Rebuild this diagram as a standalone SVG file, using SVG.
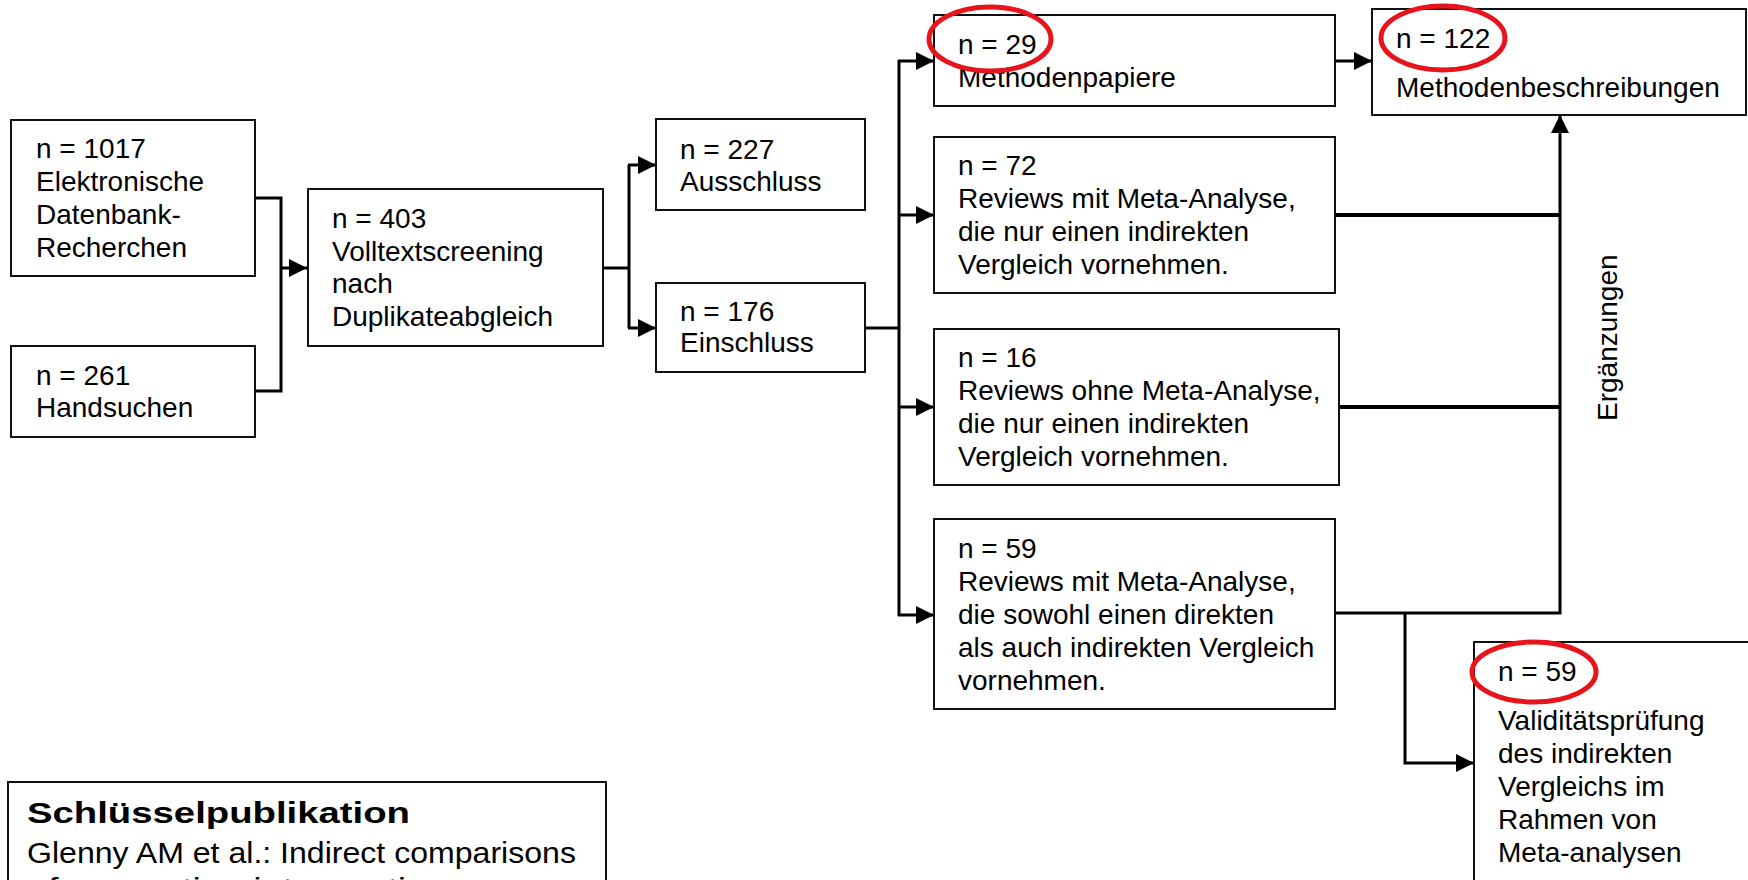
<svg xmlns="http://www.w3.org/2000/svg" width="1748" height="880" viewBox="0 0 1748 880">
<style>
.box{fill:#fff;stroke:#111;stroke-width:2}
.t{font-family:"Liberation Sans",Arial,sans-serif;font-size:28px;fill:#000}
.c{fill:none;stroke:#000;stroke-width:3}
.ct{fill:none;stroke:#000;stroke-width:4}
.red{fill:none;stroke:#e8141c;stroke-width:5}
</style>
<defs>
<marker id="ah" markerUnits="userSpaceOnUse" markerWidth="20" markerHeight="20" refX="18" refY="9" orient="auto">
<path d="M0,0 L18,9 L0,18 z" fill="#000"/>
</marker>
</defs>
<rect width="1748" height="880" fill="#fff"/>

<g id="connectors">
<polyline class="c" points="255,198 281,198 281,391 255,391"/>
<line class="c" x1="281" y1="268" x2="307" y2="268" marker-end="url(#ah)"/>
<line class="c" x1="603" y1="268" x2="629" y2="268"/>
<line class="c" x1="629" y1="165" x2="629" y2="328"/>
<line class="c" x1="628" y1="165" x2="656" y2="165" marker-end="url(#ah)"/>
<line class="c" x1="628" y1="328" x2="656" y2="328" marker-end="url(#ah)"/>
<line class="c" x1="865" y1="328" x2="899" y2="328"/>
<line class="c" x1="899" y1="60" x2="899" y2="616"/>
<line class="c" x1="898" y1="61" x2="934" y2="61" marker-end="url(#ah)"/>
<line class="c" x1="898" y1="215" x2="934" y2="215" marker-end="url(#ah)"/>
<line class="c" x1="898" y1="407" x2="934" y2="407" marker-end="url(#ah)"/>
<line class="c" x1="898" y1="615" x2="934" y2="615" marker-end="url(#ah)"/>
<line class="c" x1="1335" y1="61" x2="1372" y2="61" marker-end="url(#ah)"/>
<line class="ct" x1="1335" y1="215" x2="1560" y2="215"/>
<line class="ct" x1="1339" y1="407" x2="1560" y2="407"/>
<polyline class="c" points="1335,613 1560,613 1560,115" marker-end="url(#ah)"/>
<polyline class="c" points="1405,613 1405,763 1474,763" marker-end="url(#ah)"/>
</g>

<g id="n1017">
<rect class="box" x="11" y="120" width="244" height="156"/>
<text class="t" x="36" y="158">n = 1017</text>
<text class="t" x="36" y="191">Elektronische</text>
<text class="t" x="36" y="224">Datenbank-</text>
<text class="t" x="36" y="257">Recherchen</text>
</g>
<g id="n261">
<rect class="box" x="11" y="346" width="244" height="91"/>
<text class="t" x="36" y="385">n = 261</text>
<text class="t" x="36" y="417">Handsuchen</text>
</g>
<g id="n403">
<rect class="box" x="308" y="189" width="295" height="157"/>
<text class="t" x="332" y="228">n = 403</text>
<text class="t" x="332" y="261">Volltextscreening</text>
<text class="t" x="332" y="293">nach</text>
<text class="t" x="332" y="326">Duplikateabgleich</text>
</g>
<g id="n227">
<rect class="box" x="656" y="119" width="209" height="91"/>
<text class="t" x="680" y="159">n = 227</text>
<text class="t" x="680" y="191">Ausschluss</text>
</g>
<g id="n176">
<rect class="box" x="656" y="283" width="209" height="89"/>
<text class="t" x="680" y="321">n = 176</text>
<text class="t" x="680" y="352">Einschluss</text>
</g>
<g id="n29">
<rect class="box" x="934" y="15" width="401" height="91"/>
<text class="t" x="958" y="54">n = 29</text>
<text class="t" x="958" y="87">Methodenpapiere</text>
</g>
<g id="n72">
<rect class="box" x="934" y="137" width="401" height="156"/>
<text class="t" x="958" y="175">n = 72</text>
<text class="t" x="958" y="208">Reviews mit Meta-Analyse,</text>
<text class="t" x="958" y="241">die nur einen indirekten</text>
<text class="t" x="958" y="274">Vergleich vornehmen.</text>
</g>
<g id="n16">
<rect class="box" x="934" y="329" width="405" height="156"/>
<text class="t" x="958" y="367">n = 16</text>
<text class="t" x="958" y="400">Reviews ohne Meta-Analyse,</text>
<text class="t" x="958" y="433">die nur einen indirekten</text>
<text class="t" x="958" y="466">Vergleich vornehmen.</text>
</g>
<g id="n59">
<rect class="box" x="934" y="519" width="401" height="190"/>
<text class="t" x="958" y="558">n = 59</text>
<text class="t" x="958" y="591">Reviews mit Meta-Analyse,</text>
<text class="t" x="958" y="624">die sowohl einen direkten</text>
<text class="t" x="958" y="657">als auch indirekten Vergleich</text>
<text class="t" x="958" y="690">vornehmen.</text>
</g>
<g id="n122">
<rect class="box" x="1372" y="9" width="374" height="106"/>
<text class="t" x="1396" y="48">n = 122</text>
<text class="t" x="1396" y="97">Methodenbeschreibungen</text>
</g>
<g id="n59b">
<rect class="box" x="1474" y="642" width="300" height="260"/>
<text class="t" x="1498" y="681">n = 59</text>
<text class="t" x="1498" y="730">Validitätsprüfung</text>
<text class="t" x="1498" y="763">des indirekten</text>
<text class="t" x="1498" y="796">Vergleichs im</text>
<text class="t" x="1498" y="829">Rahmen von</text>
<text class="t" x="1498" y="862">Meta-analysen</text>
</g>
<g id="label-erg">
<text class="t" transform="translate(1617,421) rotate(-90)">Ergänzungen</text>
</g>
<g id="highlights">
<ellipse class="red" cx="990" cy="39" rx="61" ry="32"/>
<ellipse class="red" cx="1443" cy="38" rx="62" ry="32"/>
<ellipse class="red" cx="1534" cy="672" rx="62" ry="30"/>
</g>
<g id="keypub">
<rect class="box" x="8" y="782" width="598" height="130"/>
<text x="27" y="823" font-family="'Liberation Sans',Arial,sans-serif" font-weight="bold" font-size="30" textLength="383" lengthAdjust="spacingAndGlyphs">Schlüsselpublikation</text>
<text x="27" y="863" font-family="'Liberation Sans',Arial,sans-serif" font-size="29" textLength="549" lengthAdjust="spacingAndGlyphs">Glenny AM et al.: Indirect comparisons</text>
<text x="27" y="899" font-family="'Liberation Sans',Arial,sans-serif" font-size="29" textLength="440" lengthAdjust="spacingAndGlyphs">of competing interventions</text>
</g>
</svg>
